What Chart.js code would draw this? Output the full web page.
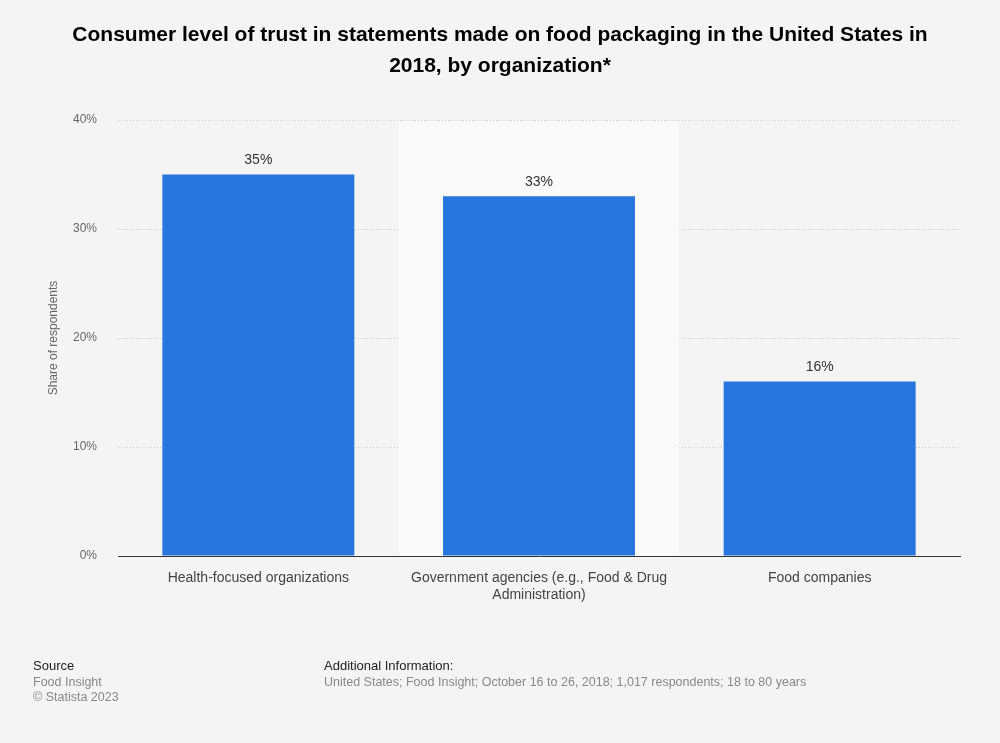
<!DOCTYPE html>
<html>
<head>
<meta charset="utf-8">
<script src="https://cdn.jsdelivr.net/npm/chart.js@4.4.1/dist/chart.umd.min.js"></script>
<style>
  html, body { margin: 0; padding: 0; background: #f4f4f4; }
  #wrap { width: 1000px; height: 743px; position: relative; }
</style>
</head>
<body>
<div id="wrap"><canvas id="myChart" width="1000" height="743"></canvas></div>
<script>
const categories = [
  "Health-focused organizations",
  ["Government agencies (e.g., Food & Drug", "Administration)"],
  "Food companies",
];
const shares = [35, 33, 16];
const yTicks = [0, 10, 20, 30, 40];
const highlighted = 1;

const FONT = "'Liberation Sans', Arial, sans-serif";

// fondo claro de la categoria resaltada, etiquetas y textos
const extras = {
  id: "extras",
  beforeDatasetsDraw(chart) {
    const { ctx, chartArea, scales } = chart;
    const x = scales.x;
    const w = (chartArea.right - chartArea.left) / categories.length;
    const cx = x.getPixelForValue(highlighted);
    ctx.save();
    ctx.fillStyle = "#fafafa";
    ctx.fillRect(cx - w / 2, chartArea.top + 1, w, chartArea.bottom - chartArea.top - 1);
    ctx.restore();
  },
  afterDatasetsDraw(chart) {
    const { ctx } = chart;
    const meta = chart.getDatasetMeta(0);
    ctx.save();
    ctx.font = "14px " + FONT;
    ctx.fillStyle = "#333";
    ctx.textAlign = "center";
    ctx.textBaseline = "middle";
    meta.data.forEach((bar, i) => {
      ctx.fillText(shares[i] + "%", bar.x, bar.y - 14);
    });
    ctx.restore();
  },
  afterDraw(chart) {
    const { ctx } = chart;
    ctx.save();
    ctx.textBaseline = "middle";
    ctx.textAlign = "center";
    ctx.fillStyle = "#000";
    ctx.font = "bold 21px " + FONT;
    ctx.fillText("Consumer level of trust in statements made on food packaging in the United States in", 500, 35);
    ctx.fillText("2018, by organization*", 500, 66);

    ctx.textAlign = "left";
    ctx.font = "13px " + FONT;
    ctx.fillStyle = "#222";
    ctx.fillText("Source", 33, 666);
    ctx.fillText("Additional Information:", 324, 666);
    ctx.font = "12.5px " + FONT;
    ctx.fillStyle = "#888";
    ctx.fillText("Food Insight", 33, 683);
    ctx.fillText("© Statista 2023", 33, 698);
    ctx.fillText("United States; Food Insight; October 16 to 26, 2018; 1,017 respondents; 18 to 80 years", 324, 683);
    ctx.restore();
  },
};

const ctx = document.getElementById("myChart");
new Chart(ctx, {
  type: "bar",
  data: {
    labels: categories,
    datasets: [
      {
        data: shares,
        backgroundColor: "#2876dd",
        borderWidth: 0,
        barPercentage: 0.684,
        categoryPercentage: 1,
      },
    ],
  },
  options: {
    responsive: false,
    animation: false,
    layout: { padding: { top: 120, right: 40, bottom: 127, left: 0 } },
    scales: {
      x: {
        grid: { display: false, drawTicks: false },
        border: { display: true, color: "#333", width: 1 },
        ticks: {
          color: "#444",
          font: { size: 14, family: FONT },
          padding: 14,
          maxRotation: 0,
          autoSkip: false,
        },
        afterFit(scale) { scale.height = 60; },
      },
      y: {
        min: 0,
        max: 40,
        afterBuildTicks(scale) { scale.ticks = yTicks.map(v => ({ value: v })); },
        grid: { color: "#c8c8c8", drawTicks: false, lineWidth: 1 },
        border: { display: false, dash: [1, 2] },
        ticks: {
          color: "#666",
          font: { size: 12, family: FONT },
          padding: 21,
          callback: v => v + "%",
        },
        title: {
          display: true,
          text: "Share of respondents",
          color: "#666",
          font: { size: 12, family: FONT },
          padding: { top: 46, bottom: 0 },
        },
        afterFit(scale) { scale.width = 118; },
      },
    },
    plugins: {
      legend: { display: false },
      tooltip: { enabled: false },
    },
  },
  plugins: [extras],
});
</script>
</body>
</html>
